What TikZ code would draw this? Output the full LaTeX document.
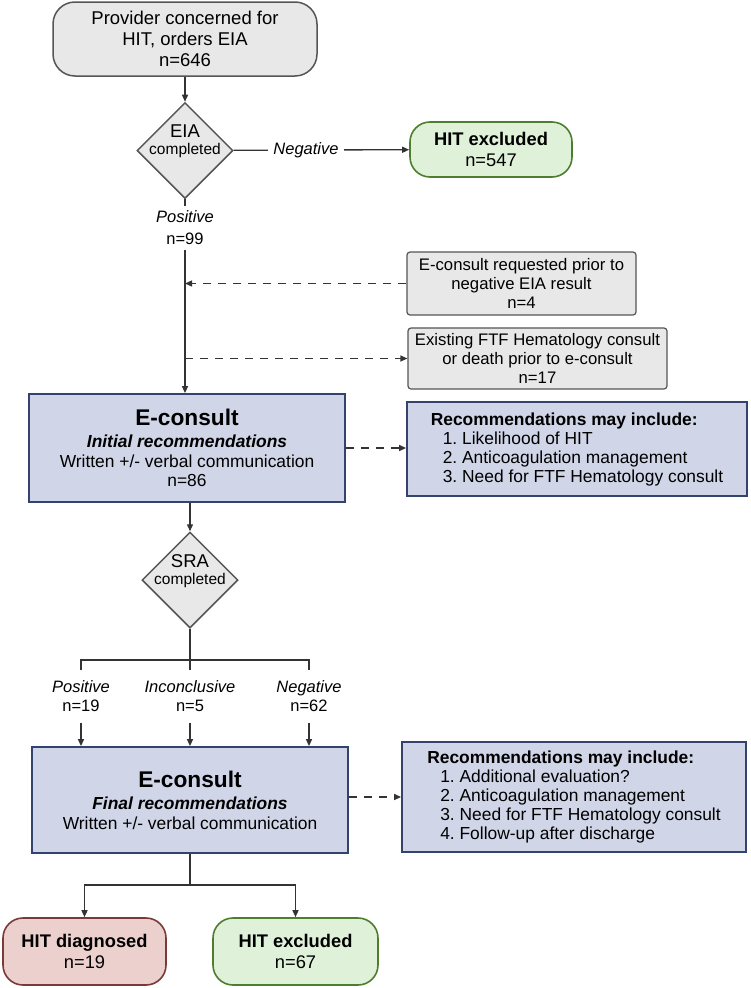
\documentclass[tikz,border=0pt]{standalone}
\usepackage{fontspec}
\setmainfont{Liberation Sans}
\usetikzlibrary{shapes.geometric, arrows.meta}
\frenchspacing

\definecolor{grayfill}{HTML}{E8E8E8}
\definecolor{grayline}{HTML}{555555}
\definecolor{greenfill}{HTML}{DFF1D8}
\definecolor{greenline}{HTML}{4E7D2D}
\definecolor{redfill}{HTML}{EBD0CE}
\definecolor{redline}{HTML}{7A3B36}
\definecolor{bluefill}{HTML}{D0D5E8}
\definecolor{blueline}{HTML}{34426E}
\definecolor{linkline}{HTML}{333333}

\begin{document}
\begin{tikzpicture}[x=1pt, y=-1pt, line width=1.3pt, draw=linkline,
  >={Triangle[length=7pt,width=6pt]}]
\tikzstyle{every node}+=[inner sep=0pt, text=black]
\tikzstyle{startbox}=[rectangle, draw=grayline, fill=grayfill, rounded corners=22pt, line width=1.5pt, align=center, font=\fontsize{18.5}{21}\selectfont]
\tikzstyle{decision}=[diamond, aspect=1, draw=grayline, fill=grayfill, line width=1.5pt, minimum width=96pt, minimum height=96pt]
\tikzstyle{decisiontext}=[align=center, font=\fontsize{15.5}{17}\selectfont, yshift=9pt]
\tikzstyle{sidebox}=[rectangle, draw=grayline, fill=grayfill, rounded corners=3pt, line width=1.2pt, align=center, font=\fontsize{16.7}{19}\selectfont]
\tikzstyle{consult}=[rectangle, draw=blueline, fill=bluefill, line width=1.8pt, align=center, font=\fontsize{17.4}{19.5}\selectfont]
\tikzstyle{recbox}=[rectangle, draw=blueline, fill=bluefill, line width=1.8pt, align=left, inner sep=4pt, font=\fontsize{17.4}{19}\selectfont]
\tikzstyle{excluded}=[rectangle, draw=greenline, fill=greenfill, rounded corners=20pt, line width=1.6pt, align=center, font=\fontsize{18.3}{21}\selectfont]
\tikzstyle{diagnosed}=[excluded, draw=redline, fill=redfill]
\tikzstyle{branchlbl}=[align=center, font=\fontsize{16.5}{19}\selectfont]
\tikzstyle{dashline}=[dash pattern=on 8pt off 7pt]

\useasboundingbox (0,0) rectangle (750,988);

% top part
\node[startbox, minimum width=264pt, minimum height=74pt] (provider) at (185,39)
  {Provider concerned for\\HIT, orders EIA\\n=646};
\node[decision, label={[decisiontext]center:{\fontsize{18.5}{17}\selectfont EIA}\\completed}] (eia) at (185,150.5) {};
\node[branchlbl, inner sep=5pt] (eianeg) at (306,150) {\textit{Negative}};
\node[excluded, minimum width=162pt, minimum height=55pt] (excl1) at (491,149.5)
  {\textbf{HIT excluded}\\n=547};
\node[branchlbl, inner sep=4pt] (eiapos) at (185,228) {\textit{Positive}\\[3pt]n=99};

\node[sidebox, minimum width=229pt, minimum height=63pt] (side1) at (521.5,283.5)
  {E-consult requested prior to\\negative EIA result\\n=4};
\node[sidebox, minimum width=259pt, minimum height=61pt] (side2) at (537.5,358.5)
  {Existing FTF Hematology consult\\or death prior to e-consult\\n=17};

% initial e-consult
\node[consult, minimum width=316pt, minimum height=108pt] (econ1) at (187,448)
  {{\fontsize{22.7}{26}\selectfont\textbf{E-consult}}\\[3pt]
   \textbf{\textit{Initial recommendations}}\\Written +/- verbal communication\\n=86};
\node[recbox, minimum width=340pt, minimum height=94pt] (rec1) at (577,449)
  {\textbf{Recommendations may include:}\\
   \hspace*{12pt}1. Likelihood of HIT\\
   \hspace*{12pt}2. Anticoagulation management\\
   \hspace*{12pt}3. Need for FTF Hematology consult};

% SRA
\node[decision, label={[decisiontext]center:{\fontsize{18.5}{17}\selectfont SRA}\\completed}] (sra) at (190,580) {};
\coordinate (srafork) at (190,660);
\node[branchlbl, inner sep=10pt] (srapos) at (81,696.5) {\textit{Positive}\\n=19};
\node[branchlbl, inner sep=10pt] (srainc) at (190,696.5) {\textit{Inconclusive}\\n=5};
\node[branchlbl, inner sep=10pt] (sraneg) at (309,696.5) {\textit{Negative}\\n=62};

% final e-consult
\node[consult, minimum width=316pt, minimum height=106pt] (econ2) at (190,800)
  {{\fontsize{22.7}{26}\selectfont\textbf{E-consult}}\\[3pt]
   \textbf{\textit{Final recommendations}}\\Written +/- verbal communication};
\node[recbox, minimum width=344pt, minimum height=110pt] (rec2) at (574,797)
  {\textbf{Recommendations may include:}\\
   \hspace*{13pt}1. Additional evaluation?\\
   \hspace*{13pt}2. Anticoagulation management\\
   \hspace*{13pt}3. Need for FTF Hematology consult\\
   \hspace*{13pt}4. Follow-up after discharge};

% outcomes
\coordinate (outfork) at (190,885);
\node[diagnosed, minimum width=163pt, minimum height=67pt] (diag) at (84.5,951.5)
  {\textbf{HIT diagnosed}\\n=19};
\node[excluded, minimum width=165pt, minimum height=67pt] (excl2) at (295.5,951.5)
  {\textbf{HIT excluded}\\n=67};

% connectors
\draw[->] (provider) -- (eia);
\draw (eia) -- (eianeg);
\draw[->] (eianeg) -- (excl1);
\draw (eia) -- (eiapos);
\draw[->] (eiapos) -- (eiapos |- econ1.north);
\draw[dashline, ->] (side1) -- (side1 -| eiapos);
\draw[dashline, ->] (side2 -| eiapos) -- (side2);
\draw[dashline, ->] (econ1.east) -- (econ1.east -| rec1.west);
\draw[->] (sra.north |- econ1.south) -- (sra.north);
\draw (sra.south) -- (srainc.north);
\draw (srapos.north) -- (srapos.north |- srafork) -| (sraneg.north);
\draw[->] (srapos) -- (srapos |- econ2.north);
\draw[->] (srainc) -- (srainc |- econ2.north);
\draw[->] (sraneg) -- (sraneg |- econ2.north);
\draw[dashline, ->] (rec2.west -| econ2.east) -- (rec2.west);
\draw (econ2.south) -- (outfork);
\draw[->] (outfork) -| (diag.north);
\draw[->] (outfork) -| (excl2.north);
\end{tikzpicture}
\end{document}
